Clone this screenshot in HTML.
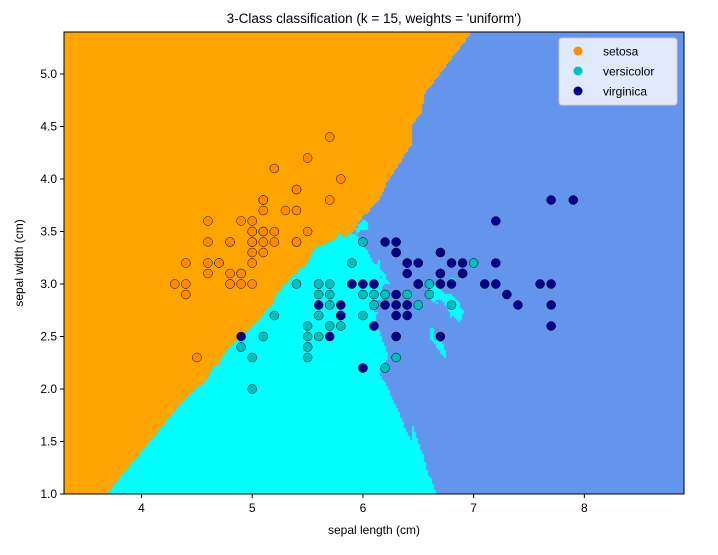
<!DOCTYPE html>
<html><head><meta charset="utf-8"><style>
html,body{margin:0;padding:0;background:#fff;width:718px;height:555px;overflow:hidden}
#wrap{position:relative;width:718px;height:555px}
canvas{position:absolute;left:64px;top:32px}
svg{position:absolute;left:0;top:0}
text{font-family:"Liberation Sans","DejaVu Sans",sans-serif;fill:#000}
</style></head><body>
<div id="wrap">
<canvas id="cv" width="620" height="462"></canvas>
<svg id="sv" width="718" height="555"></svg>
</div>
<script>
const classNames=["setosa","versicolor","virginica"];
const setosa=[[5.1,3.5],[4.9,3.0],[4.7,3.2],[4.6,3.1],[5.0,3.6],[5.4,3.9],[4.6,3.4],[5.0,3.4],[4.4,2.9],[4.9,3.1],[5.4,3.7],[4.8,3.4],[4.8,3.0],[4.3,3.0],[5.8,4.0],[5.7,4.4],[5.4,3.9],[5.1,3.5],[5.7,3.8],[5.1,3.8],[5.4,3.4],[5.1,3.7],[4.6,3.6],[5.1,3.3],[4.8,3.4],[5.0,3.0],[5.0,3.4],[5.2,3.5],[5.2,3.4],[4.7,3.2],[4.8,3.1],[5.4,3.4],[5.2,4.1],[5.5,4.2],[4.9,3.1],[5.0,3.2],[5.5,3.5],[4.9,3.6],[4.4,3.0],[5.1,3.4],[5.0,3.5],[4.5,2.3],[4.4,3.2],[5.0,3.5],[5.1,3.8],[4.8,3.0],[5.1,3.8],[4.6,3.2],[5.3,3.7],[5.0,3.3]];
const versicolor=[[7.0,3.2],[6.4,3.2],[6.9,3.1],[5.5,2.3],[6.5,2.8],[5.7,2.8],[6.3,3.3],[4.9,2.4],[6.6,2.9],[5.2,2.7],[5.0,2.0],[5.9,3.0],[6.0,2.2],[6.1,2.9],[5.6,2.9],[6.7,3.1],[5.6,3.0],[5.8,2.7],[6.2,2.2],[5.6,2.5],[5.9,3.2],[6.1,2.8],[6.3,2.5],[6.1,2.8],[6.4,2.9],[6.6,3.0],[6.8,2.8],[6.7,3.0],[6.0,2.9],[5.7,2.6],[5.5,2.4],[5.5,2.4],[5.8,2.7],[6.0,2.7],[5.4,3.0],[6.0,3.4],[6.7,3.1],[6.3,2.3],[5.6,3.0],[5.5,2.5],[5.5,2.6],[6.1,3.0],[5.8,2.6],[5.0,2.3],[5.6,2.7],[5.7,3.0],[5.7,2.9],[6.2,2.9],[5.1,2.5],[5.7,2.8]];
const virginica=[[6.3,3.3],[5.8,2.7],[7.1,3.0],[6.3,2.9],[6.5,3.0],[7.6,3.0],[4.9,2.5],[7.3,2.9],[6.7,2.5],[7.2,3.6],[6.5,3.2],[6.4,2.7],[6.8,3.0],[5.7,2.5],[5.8,2.8],[6.4,3.2],[6.5,3.0],[7.7,3.8],[7.7,2.6],[6.0,2.2],[6.9,3.2],[5.6,2.8],[7.7,2.8],[6.3,2.7],[6.7,3.3],[7.2,3.2],[6.2,2.8],[6.1,3.0],[6.4,2.8],[7.2,3.0],[7.4,2.8],[7.9,3.8],[6.4,2.8],[6.3,2.8],[6.1,2.6],[7.7,3.0],[6.3,3.4],[6.4,3.1],[6.0,3.0],[6.9,3.1],[6.7,3.1],[6.9,3.1],[5.8,2.7],[6.8,3.2],[6.7,3.3],[6.7,3.0],[6.3,2.5],[6.5,3.0],[6.2,3.4],[5.9,3.0]];
const xTicks=[4,5,6,7,8];
const yTicks=[1.0,1.5,2.0,2.5,3.0,3.5,4.0,4.5,5.0];
const K=15;
const X0=3.3,X1=8.9,Y0=1.0,Y1=5.4;
const L=64,T=32,W=620,H=462;
const lightCols=["#ffa500","#00ffff","#6495ed"];
const boldCols=["#ff8c00","#00bfbf","#00008b"];
function sx(v){return L+(v-X0)/(X1-X0)*W;}
function sy(v){return T+H-(v-Y0)/(Y1-Y0)*H;}
const train=[];
[setosa,versicolor,virginica].forEach((a,c)=>a.forEach(p=>train.push([p[0],p[1],c])));
const ctx=document.getElementById('cv').getContext('2d');
const S=2,d=new Float64Array(train.length),idx=[...train.keys()];
for(let py=0;py<H;py+=S){for(let px=0;px<W;px+=S){
 const x=X0+(px+S/2)/W*(X1-X0),y=Y1-(py+S/2)/H*(Y1-Y0);
 for(let i=0;i<train.length;i++){const dx=train[i][0]-x,dy=train[i][1]-y;d[i]=dx*dx+dy*dy;}
 idx.sort((a,b)=>d[a]-d[b]||a-b);
 const cnt=[0,0,0];for(let k=0;k<K;k++)cnt[train[idx[k]][2]]++;
 let best=0;for(let c=1;c<3;c++)if(cnt[c]>cnt[best])best=c;
 ctx.fillStyle=lightCols[best];ctx.fillRect(px,py,S,S);
}}
const NS="http://www.w3.org/2000/svg";
const sv=document.getElementById('sv');
function mk(tag,attrs,parent){const e=document.createElementNS(NS,tag);for(const k in attrs)e.setAttribute(k,attrs[k]);(parent||sv).appendChild(e);return e;}
const gp=mk('g',{});


train.forEach((p,i)=>{const c=mk('circle',{cx:sx(p[0]),cy:sy(p[1]),r:4.5,fill:boldCols[p[2]],stroke:'#000','stroke-width':0.5},gp);
 
 });
const fr=mk('rect',{x:L,y:T,width:W,height:H,fill:'none',stroke:'#000','stroke-width':1});


xTicks.forEach(v=>{const x=sx(v);mk('line',{x1:x,x2:x,y1:T+H,y2:T+H+4,stroke:'#000'});
 const t=mk('text',{x:x,y:T+H+18,'text-anchor':'middle','font-size':12});t.textContent=v;
 
 });
yTicks.forEach(v=>{const y=sy(v);mk('line',{x1:L-4,x2:L,y1:y,y2:y,stroke:'#000'});
 const t=mk('text',{x:L-7,y:y+4,'text-anchor':'end','font-size':12});t.textContent=v.toFixed(1);
 
 });
let t=mk('text',{x:L+W/2,y:23,'text-anchor':'middle','font-size':13.5});t.textContent="3-Class classification (k = 15, weights = 'uniform')";


t=mk('text',{x:L+W/2,y:534,'text-anchor':'middle','font-size':12});t.textContent="sepal length (cm)";


t=mk('text',{x:0,y:0,'text-anchor':'middle','font-size':12,transform:'translate(23,'+(T+H/2)+') rotate(-90)'});t.textContent="sepal width (cm)";


const lg=mk('g',{});


mk('rect',{x:559,y:38,width:118,height:67,rx:3,fill:'rgba(255,255,255,0.8)',stroke:'#ccc'},lg);
classNames.forEach((n,i)=>{const y=51+i*20;
 const c=mk('circle',{cx:578,cy:y,r:4.5,fill:boldCols[i]},lg);
 
 
 const tt=mk('text',{x:603,y:y+4.5,'font-size':12},lg);tt.textContent=n;
 
 });
</script>
</body></html>
